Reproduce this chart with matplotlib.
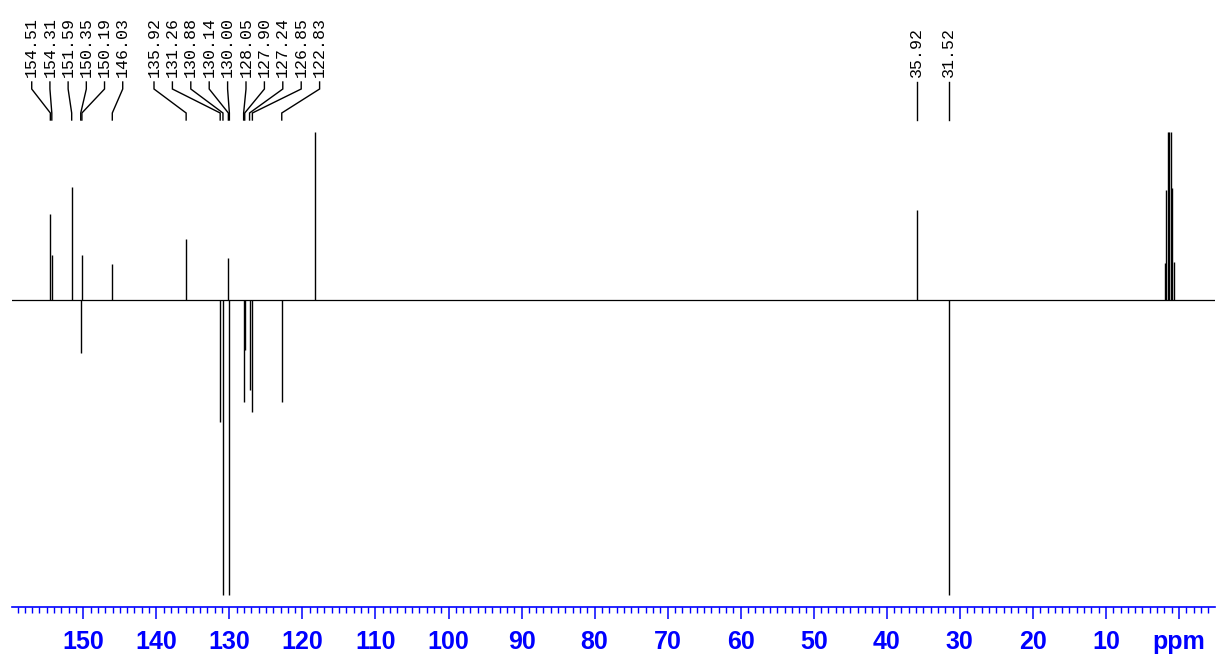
import numpy as np
import matplotlib
matplotlib.use("Agg")
import matplotlib.pyplot as plt

# ---------------- data ----------------
# labelled peaks (ppm) and their apparent intensities (pixels above baseline, +up / -down)
label_group1 = [154.51, 154.31, 151.59, 150.35, 150.19, 146.03]
label_group2 = [135.92, 131.26, 130.88, 130.14, 130.00, 128.05, 127.90, 127.24, 126.85, 122.83]
label_group3 = [35.92, 31.52]

peak_ppm = [154.51, 154.31, 151.59, 150.35, 150.19, 146.03,
            135.92, 131.26, 130.88, 130.14, 130.00, 128.05, 127.90,
            127.24, 126.85, 122.83, 118.26, 35.92, 31.52,
            1.94, 1.73, 1.53, 1.32, 1.11, 0.90, 0.70]
peak_int = [86, 45, 113, -53, 45, 36,
            61, -122, -420, 42, -420, -102, -50,
            -90, -112, -102, 420, 90, -400,
            37, 110, 220, 256, 220, 112, 38]

major_ticks = list(range(0, 151, 10))
tick_labels = ["ppm" if t == 0 else str(t) for t in major_ticks]
minor_ticks = list(range(-4, 160, 1))

# ---------------- layout ----------------
W, H, DPI = 1217, 658, 100
fig = plt.figure(figsize=(W / DPI, H / DPI), dpi=DPI)
fig.patch.set_facecolor("white")

x_left_px, x_right_px = 12, 1215
axis_y_px, clip_top_px, baseline_px, clip_bot_px = 607, 132, 300, 595
xlim = (159.76, -4.93)

ax = fig.add_axes([x_left_px / W, (H - axis_y_px) / H,
                   (x_right_px - x_left_px) / W, (axis_y_px - clip_top_px) / H])
ax.set_xlim(*xlim)
ax.set_ylim(baseline_px - axis_y_px, baseline_px - clip_top_px)

hi = baseline_px - clip_top_px
lo = baseline_px - clip_bot_px
heights = np.clip(np.array(peak_int, dtype=float), lo, hi)

ax.axhline(0, color="black", lw=0.9)
ax.vlines(peak_ppm, 0, heights, color="black", lw=1.0)

blue = "#0000FF"
for s in ["top", "left", "right"]:
    ax.spines[s].set_visible(False)
ax.spines["bottom"].set_color(blue)
ax.spines["bottom"].set_linewidth(1.2)
ax.set_yticks([])
ax.set_xticks(major_ticks)
ax.set_xticks(minor_ticks, minor=True)
ax.set_xticklabels(tick_labels)
ax.tick_params(axis="x", which="major", direction="out", length=8.6, width=1.1,
               color=blue, pad=8.0, labelcolor=blue, labelsize=18)
ax.tick_params(axis="x", which="minor", direction="out", length=4.3, width=1.0,
               color=blue)
for lab in ax.get_xticklabels():
    lab.set_fontweight("bold")
    lab.set_family("Liberation Sans")

# ---------------- peak labels ----------------
axt = fig.add_axes([x_left_px / W, (H - clip_top_px) / H,
                    (x_right_px - x_left_px) / W, clip_top_px / H], sharex=ax)
axt.set_ylim(clip_top_px, 0)
axt.axis("off")

ppm_per_px = (xlim[0] - xlim[1]) / (x_right_px - x_left_px)
groups = [
    (label_group1, 157.06, 18.2 * ppm_per_px),
    (label_group2, 140.32, 18.4 * ppm_per_px),
    (label_group3, None, None),
]
y_text, y0, y1, y2, y3 = 77, 82, 89, 113, 120
for labels, start, step in groups:
    for i, p in enumerate(labels):
        slot = p if start is None else start - i * step
        axt.plot([slot, slot, p, p], [y0, y1, y2, y3], color="black", lw=1.0,
                 solid_joinstyle="miter", clip_on=False)
        axt.text(slot, y_text, f"{p:.2f}", rotation=90, ha="center", va="bottom",
                 fontsize=12, family="Liberation Mono", color="black", clip_on=False)

fig.savefig("out.png", dpi=DPI, facecolor="white")
